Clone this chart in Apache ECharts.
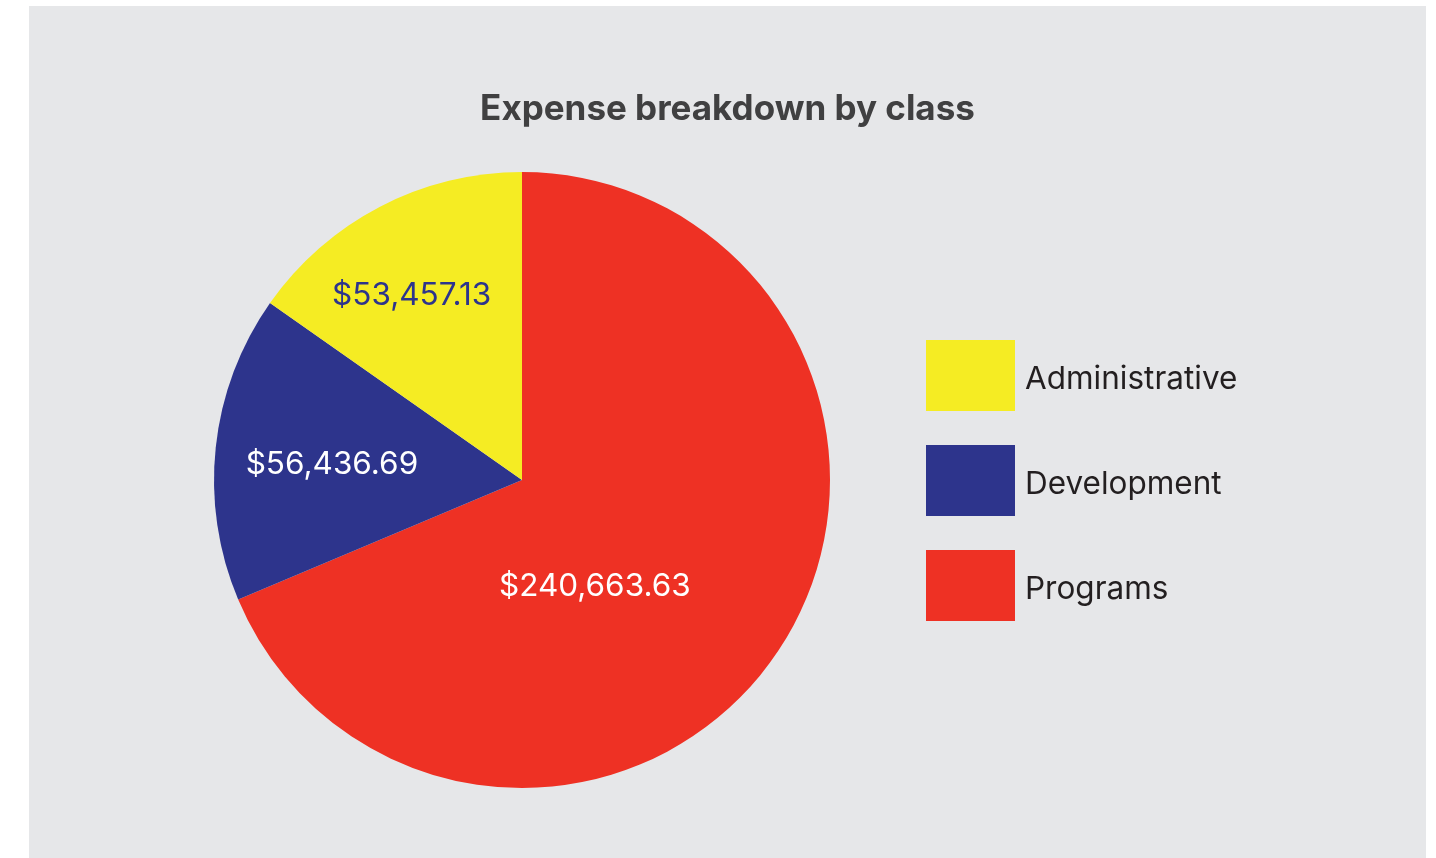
<!DOCTYPE html>
<html>
<head>
<meta charset="utf-8">
<script src="https://cdn.jsdelivr.net/npm/echarts@6/dist/echarts.min.js"></script>
<style>
  html, body { margin: 0; padding: 0; background: #ffffff; width: 1436px; height: 858px; overflow: hidden; }
  #panel { position: absolute; left: 29px; top: 6px; width: 1397px; height: 852px; background: #e6e7e9; }
  #chart { width: 1397px; height: 852px; }
</style>
</head>
<body>
<div id="panel"><div id="chart"></div></div>
<script>
const titleText = 'Expense breakdown by class';
const categories = ['Programs', 'Development', 'Administrative'];
const values = [240663.63, 56436.69, 53457.13];
const legendOrder = ['Administrative', 'Development', 'Programs'];
const colors = ['#ee3124', '#2d348c', '#f5ec23'];
const labelColors = ['#ffffff', '#ffffff', '#2d348c'];
const labelOffsets = [[-58, 20], [-34, 1], [-38, -45]];

function fmt(v) {
  return '$' + v.toLocaleString('en-US', { minimumFractionDigits: 2, maximumFractionDigits: 2 });
}

const chart = echarts.init(document.getElementById('chart'), null, { renderer: 'canvas' });
chart.setOption({
  animation: false,
  backgroundColor: 'transparent',
  title: {
    text: titleText,
    left: 'center',
    top: 86,
    padding: 0,
    textStyle: { fontFamily: 'Inter', fontWeight: 'bold', fontSize: 35, color: '#404041' }
  },
  legend: {
    orient: 'vertical',
    left: 897,
    top: 334,
    padding: 0,
    itemWidth: 89,
    itemHeight: 71,
    itemGap: 34,
    icon: 'rect',
    selectedMode: false,
    data: legendOrder,
    formatter: name => '{t|' + name + '}',
    textStyle: {
      fontFamily: 'Inter', fontSize: 31.5, color: '#231f20',
      rich: { t: { fontFamily: 'Inter', fontSize: 31.5, color: '#231f20', padding: [8, 0, 0, 5] } }
    }
  },
  series: [{
    type: 'pie',
    center: [493, 474],
    radius: [0, 308],
    startAngle: 90,
    clockwise: true,
    silent: true,
    emphasis: { disabled: true },
    itemStyle: { borderWidth: 0 },
    labelLine: { show: false },
    data: categories.map((c, i) => ({
      name: c,
      value: values[i],
      itemStyle: { color: colors[i] },
      label: {
        show: true,
        position: 'inside',
        formatter: () => fmt(values[i]),
        color: labelColors[i],
        fontFamily: 'Inter',
        fontSize: 31.5,
        offset: labelOffsets[i],
        textBorderWidth: 0
      }
    }))
  }]
});
</script>
</body>
</html>
